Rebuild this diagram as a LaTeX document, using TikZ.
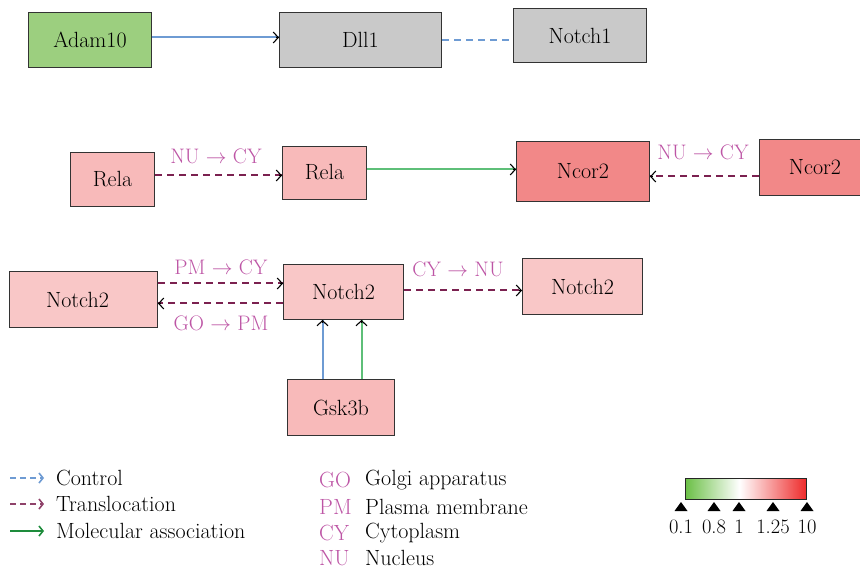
\documentclass[tikz,border=0pt]{standalone}
\usetikzlibrary{arrows.meta,calc}
\definecolor{cgreenbox}{HTML}{9CCF7F}
\definecolor{cgraybox}{HTML}{C9C9C9}
\definecolor{cpink}{HTML}{F8BABA}
\definecolor{cpinkl}{HTML}{F9C7C7}
\definecolor{cred}{HTML}{F28888}
\definecolor{cblue}{HTML}{6E9BD3}
\definecolor{cmaroon}{HTML}{7B2150}
\definecolor{cgline}{HTML}{5EBF78}
\definecolor{cglegend}{HTML}{1E8C3C}
\definecolor{clabel}{HTML}{BD55A5}
\definecolor{cbarg}{HTML}{6ABF45}
\definecolor{cbarr}{HTML}{EE2B2B}
\pgfdeclarehorizontalshading{cbarshade}{100bp}{color(0bp)=(cbarg); color(25bp)=(cbarg); color(47.5bp)=(white); color(75bp)=(cbarr); color(100bp)=(cbarr)}
\tikzset{
  box/.style={draw=black!80, line width=1pt, rectangle, inner sep=0pt, anchor=north west, font=\fontsize{22}{25}\selectfont},
  headk/.style={draw=black, line width=1.1pt, solid, -{Straight Barb[length=5pt,width=11pt]}},
  ctl/.style={draw=cblue, line width=2pt},
  trans/.style={draw=cmaroon, line width=2pt, dash pattern=on 7pt off 5pt},
  assoc/.style={draw=cgline, line width=2pt},
  lbl/.style={text=clabel, font=\fontsize{21}{24}\selectfont},
  legtxt/.style={anchor=west, inner sep=1pt, font=\fontsize{22}{25}\selectfont},
  tick/.style={font=\fontsize{20.5}{24}\selectfont}
}
\begin{document}
\begin{tikzpicture}[x=1pt,y=-1pt]
\useasboundingbox (0,0) rectangle (860,569);
% boxes
\node[box, fill=cgreenbox, minimum width=123pt, minimum height=55pt] (adam) at (28,12) {Adam10};
\node[box, fill=cgraybox, minimum width=162pt, minimum height=55pt] (dll) at (279,12) {Dll1};
\node[box, fill=cgraybox, minimum width=133pt, minimum height=54pt] (notchone) at (513,8) {Notch1};
\node[box, fill=cpink, minimum width=84pt, minimum height=54pt] (relaA) at (70,152) {Rela};
\node[box, fill=cpink, minimum width=84pt, minimum height=53pt] (relaB) at (282,146) {\raisebox{2pt}{Rela}};
\node[box, fill=cred, minimum width=133pt, minimum height=60pt] (ncorA) at (516,141) {Ncor2};
\node[box, fill=cred, minimum width=111pt, minimum height=56pt] (ncorB) at (759,139) {Ncor2};
\node[box, fill=cpinkl, minimum width=148pt, minimum height=56pt] (ntwoL) at (9,271) {\hspace*{-12pt}Notch2};
\node[box, fill=cpinkl, minimum width=120pt, minimum height=55pt] (ntwoC) at (283,264) {Notch2};
\node[box, fill=cpinkl, minimum width=120pt, minimum height=56pt] (ntwoR) at (522,258) {Notch2};
\node[box, fill=cpink, minimum width=107pt, minimum height=56pt] (gsk) at (287,379) {Gsk3b};
% connector end points
\coordinate (p1) at ($(adam.east)+(0,-2.5)$);
\coordinate (p2) at (dll.east);
\coordinate (p3) at ($(relaA.east)+(0,-4)$);
\coordinate (p4) at ($(relaB.east)+(0,-3.5)$);
\coordinate (p5) at ($(ncorA.east)+(0,5)$);
\coordinate (p6) at ($(ntwoL.east)+(0,-16)$);
\coordinate (p7) at ($(ntwoC.west)+(0,11.5)$);
\coordinate (p8) at ($(ntwoC.east)+(0,-1.5)$);
\coordinate (p9) at ($(gsk.north)+(-18.5,0)$);
\coordinate (p10) at ($(gsk.north)+(20.5,0)$);
\coordinate (e1) at (p1 -| dll.west);
\coordinate (e3) at (p3 -| relaB.west);
\coordinate (e4) at (p4 -| ncorA.west);
\coordinate (s5) at (p5 -| ncorB.west);
\coordinate (e6) at (p6 -| ntwoC.west);
\coordinate (e7) at (p7 -| ntwoL.east);
\coordinate (e8) at (p8 -| ntwoR.west);
\coordinate (e9) at (p9 |- ntwoC.south);
\coordinate (e10) at (p10 |- ntwoC.south);
% connectors (coloured lines, black open heads)
\draw[ctl] (p1) -- (e1);
\draw[draw=cblue, line width=1.6pt, dash pattern=on 7pt off 5pt] (p2) -- (p2 -| notchone.west);
\draw[trans] (p3) -- (e3);
\draw[assoc] (p4) -- (e4);
\draw[trans] (s5) -- (p5);
\draw[trans] (p6) -- (e6);
\draw[trans] (p7) -- (e7);
\draw[trans] (p8) -- (e8);
\draw[ctl] (p9) -- (e9);
\draw[assoc] (p10) -- (e10);
\draw[headk] ($(e1)+(-3,0)$) -- (e1);
\draw[headk] ($(e3)+(-3,0)$) -- (e3);
\draw[headk] ($(e4)+(-3,0)$) -- (e4);
\draw[headk] ($(p5)+(3,0)$) -- (p5);
\draw[headk] ($(e6)+(-3,0)$) -- (e6);
\draw[headk] ($(e7)+(3,0)$) -- (e7);
\draw[headk] ($(e8)+(-3,0)$) -- (e8);
\draw[headk] ($(e9)+(0,3)$) -- (e9);
\draw[headk] ($(e10)+(0,3)$) -- (e10);
% connector labels
\node[lbl] (l1) at (216,156) {NU $\rightarrow$ CY};
\node[lbl] (l2) at (703,152) {NU $\rightarrow$ CY};
\node[lbl] (l3) at (221,267) {PM $\rightarrow$ CY};
\node[lbl] (l4) at (221,323) {GO $\rightarrow$ PM};
\node[lbl] (l5) at (458,269) {CY $\rightarrow$ NU};
% legend
\coordinate (lc1) at (10,478); \coordinate (lc2) at (44,478);
\draw[draw=cblue, line width=1.6pt, dash pattern=on 6pt off 4pt, -{Straight Barb[length=4pt,width=10pt]}] (lc1) -- (lc2);
\node[legtxt] (tc) at (55,478) {Control};
\coordinate (lt1) at (10,504); \coordinate (lt2) at (44,504);
\draw[draw=cmaroon!85, line width=1.6pt, dash pattern=on 6pt off 4pt, -{Straight Barb[length=4pt,width=10pt]}] (lt1) -- (lt2);
\node[legtxt] (tt) at (55,504) {Translocation};
\coordinate (la1) at (10,531); \coordinate (la2) at (44,531);
\draw[draw=cglegend, line width=1.6pt, -{Straight Barb[length=4pt,width=10pt]}] (la1) -- (la2);
\node[legtxt] (ta) at (55,531) {Molecular association};
\node[legtxt, text=clabel] (kgo) at (318,480) {GO};
\node[legtxt] (dgo) at (364,480) {Golgi apparatus};
\node[legtxt, text=clabel] (kpm) at (318,507) {PM};
\node[legtxt] (dpm) at (364,507) {Plasma membrane};
\node[legtxt, text=clabel] (kcy) at (318,533) {CY};
\node[legtxt] (dcy) at (364,533) {Cytoplasm};
\node[legtxt, text=clabel] (knu) at (318,558) {NU};
\node[legtxt] (dnu) at (364,558) {Nucleus};
% colour bar
\shade[shading=cbarshade] (685,478) rectangle (806,499);
\draw[black!85, line width=1pt] (685,478) rectangle (806,499);
\foreach \xx/\tt in {681/0.1, 714/0.8, 739/1, 773/1.25, 807/10}{
  \fill[black] (\xx-6.5,511) -- (\xx,502) -- (\xx+6.5,511) -- cycle;
  \node[tick] at (\xx,527) {\tt};
}
\end{tikzpicture}
\end{document}
